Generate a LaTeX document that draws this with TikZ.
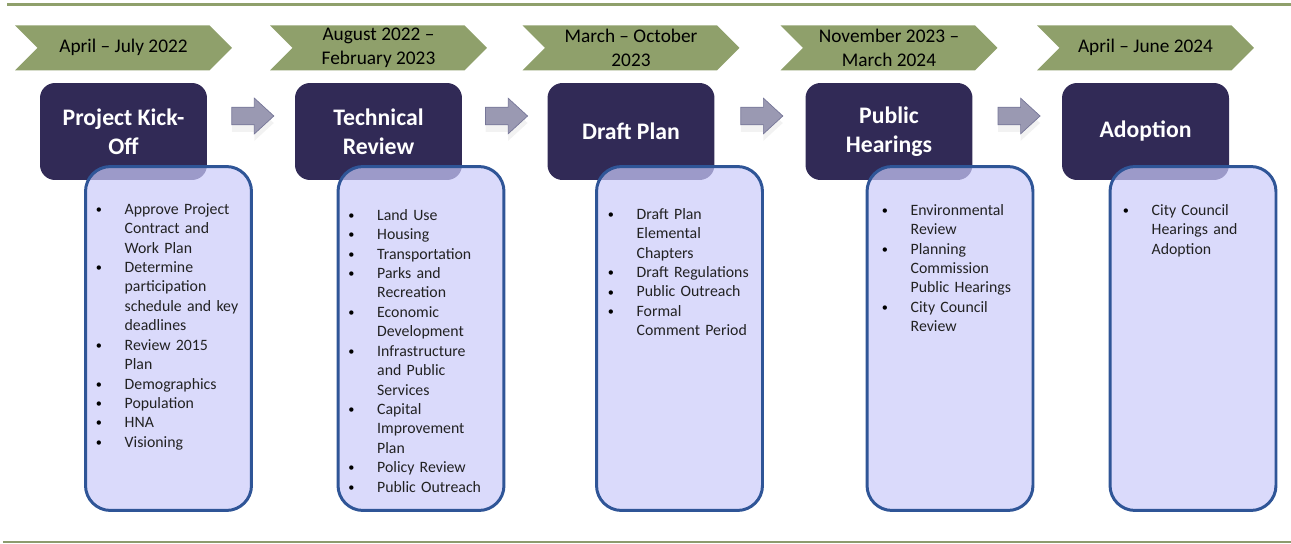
\documentclass[tikz,border=0pt]{standalone}
\usepackage{fontspec}
\setmainfont{Carlito}
\usetikzlibrary{positioning,calc,shapes.symbols,shapes.arrows,shadows}

\definecolor{phasegreen}{RGB}{143,160,107}
\definecolor{stepnavy}{RGB}{49,42,86}
\definecolor{listfill}{RGB}{202,202,250}
\definecolor{listblue}{RGB}{47,85,151}
\definecolor{arrowgray}{RGB}{154,153,178}
\definecolor{arrowedge}{RGB}{118,118,152}
\definecolor{bodytext}{RGB}{34,34,34}

% bullet line with hanging indent, \nl breaks inside an item
\newcommand{\bitem}[1]{\par\noindent\hangindent=16.4pt\hangafter=1\makebox[16.4pt][l]{\raisebox{0.5pt}{\fontsize{7}{7}\selectfont\textcolor{black}{\textbullet}}}#1}
\newcommand{\nl}{\hfil\break}

\tikzset{
  phase/.style={signal, signal to=east, signal from=west, signal pointer angle=90,
    fill=phasegreen, minimum width=4.34cm, minimum height=0.9cm, inner sep=0pt,
    align=center, text=black, font=\fontsize{11}{13.9}\selectfont},
  stepbox/.style={rounded corners=0.3cm, fill=stepnavy, minimum width=3.34cm,
    minimum height=1.94cm, inner sep=0pt, align=center, text=white,
    font=\fontsize{13.5}{16.4}\selectfont\bfseries},
  listbox/.style={draw=listblue, line width=1.7pt, rounded corners=0.5cm,
    fill=listfill, fill opacity=0.7, minimum width=3.32cm, minimum height=6.88cm},
  listtext/.style={inner sep=0pt, text width=3.3cm, align=left, text=bodytext,
    font=\fontsize{9}{11.05}\selectfont},
  nextarrow/.style={single arrow, draw=arrowedge, fill=arrowgray,
    inner xsep=0pt, inner ysep=0.17cm,
    minimum height=0.84cm, single arrow head extend=0.18cm,
    single arrow tip angle=85,
    drop shadow={opacity=0.1, shadow xshift=0pt, shadow yshift=-4pt}}
}

\begin{document}
\begin{tikzpicture}[x=0.02cm,y=-0.02cm]
  \useasboundingbox (0,0) rectangle (1291,544);

  % rules
  \draw[phasegreen, line width=2.2pt] (7,4.5) -- (1291,4.5);
  \draw[phasegreen!85!gray, line width=1.1pt] (3,542) -- (1291,542);

  % steps
  \node[stepbox] (t1) at (123.5,131.5) {Project Kick-\\Off};
  \node[stepbox] (t2) at (378.5,131.5) {Technical\\Review};
  \node[stepbox] (t3) at (631,131.5) {Draft Plan};
  \node[stepbox] (t4) at (889,131.5) {Public\\Hearings};
  \node[stepbox] (t5) at (1145.5,131.5) {Adoption};

  % dates
  \node[phase, above=0.24cm of t1] (c1) {April -- July 2022};
  \node[phase, above=0.24cm of t2] (c2) {August 2022 --\\February 2023};
  \node[phase, above=0.24cm of t3] (c3) {March -- October\\2023};
  \node[phase, above=0.24cm of t4] (c4) {November 2023 --\\March 2024};
  \node[phase, above=0.24cm of t5] (c5) {April -- June 2024};

  % arrows between steps
  \node[nextarrow] (a1) at ($(t1.east)!0.5!(t2.west)+(-3,-15.5)$) {};
  \node[nextarrow] (a2) at ($(t2.east)!0.5!(t3.west)+(-3,-15.5)$) {};
  \node[nextarrow] (a3) at ($(t3.east)!0.5!(t4.west)+(-3,-15.5)$) {};
  \node[nextarrow] (a4) at ($(t4.east)!0.5!(t5.west)+(-3,-15.5)$) {};

  % task lists
  \node[listbox] (b1) at (168.5,338.5) {};
  \node[listbox] (b2) at (421,338.5) {};
  \node[listbox] (b3) at (679.5,338.5) {};
  \node[listbox] (b4) at (950,338.5) {};
  \node[listbox] (b5) at (1193,338.5) {};

  \node[listtext, below right=0.59cm and 0.23cm of b1.north west] (l1) {%
    \bitem{Approve Project\nl Contract and\nl Work Plan}
    \bitem{Determine\nl participation\nl schedule and key\nl deadlines}
    \bitem{Review 2015\nl Plan}
    \bitem{Demographics}
    \bitem{Population}
    \bitem{HNA}
    \bitem{Visioning}\par};
  \node[listtext, below right=0.71cm and 0.23cm of b2.north west] (l2) {%
    \bitem{Land Use}
    \bitem{Housing}
    \bitem{Transportation}
    \bitem{Parks and\nl Recreation}
    \bitem{Economic\nl Development}
    \bitem{Infrastructure\nl and Public\nl Services}
    \bitem{Capital\nl Improvement\nl Plan}
    \bitem{Policy Review}
    \bitem{Public Outreach}\par};
  \node[listtext, below right=0.69cm and 0.25cm of b3.north west] (l3) {%
    \bitem{Draft Plan\nl Elemental\nl Chapters}
    \bitem{Draft Regulations}
    \bitem{Public Outreach}
    \bitem{Formal\nl Comment Period}\par};
  \node[listtext, below right=0.61cm and 0.32cm of b4.north west] (l4) {%
    \bitem{Environmental\nl Review}
    \bitem{Planning\nl Commission\nl Public Hearings}
    \bitem{City Council\nl Review}\par};
  \node[listtext, below right=0.61cm and 0.28cm of b5.north west] (l5) {%
    \bitem{City Council\nl Hearings and\nl Adoption}\par};
\end{tikzpicture}
\end{document}
